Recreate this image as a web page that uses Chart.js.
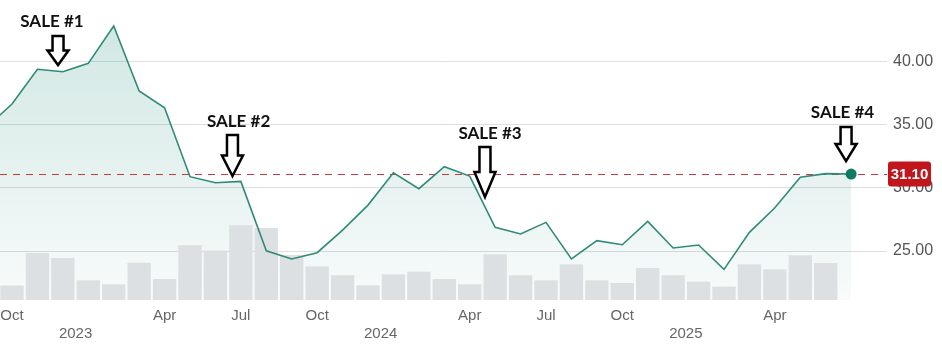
<!DOCTYPE html>
<html><head><meta charset="utf-8">
<script src="https://cdn.jsdelivr.net/npm/chart.js@4/dist/chart.umd.min.js"></script>
<style>html,body{margin:0;padding:0;background:#fff}</style>
</head><body>
<canvas id="c" width="942" height="351"></canvas>
<script>
// month index: 0 = Oct 2022
const priceIdx = [-1,0,1,2,3,4,5,6,7,8,9,10,11,12,13,14,15,16,17,18,19,20,21,22,23,24,25,26,27,28,29,30,31,32,33];
const prices = [34.8,36.65,39.40,39.21,39.87,42.83,37.68,36.35,30.89,30.41,30.52,25.02,24.37,24.87,26.66,28.64,31.20,29.94,31.68,30.94,26.88,26.35,27.27,24.37,25.82,25.50,27.35,25.24,25.48,23.55,26.48,28.43,30.84,31.13,31.10];
const volumeIdx = [0,1,2,3,4,5,6,7,8,9,10,11,12,13,14,15,16,17,18,19,20,21,22,23,24,25,26,27,28,29,30,31,32];
const volumes = [14.5,47,42,19.7,15.7,37.4,21,54.7,49.4,74.7,72,45,33.6,24.7,14.7,25.7,28.4,21,15.7,45.7,24.7,19.7,35.7,19.7,17,32,24.7,18.4,13.4,35.7,30.7,44.7,37];
const monthTickIdx = [0,6,9,12,18,21,24,30];
const monthTickLabels = ['Oct','Apr','Jul','Oct','Apr','Jul','Oct','Apr'];
const yearTickIdx = [2.5,14.5,26.5];
const yearTickLabels = ['2023','2024','2025'];
const priceTicks = [25,30,35,40];
const lastPrice = 31.10;
const saleLabels = ['SALE #1','SALE #2','SALE #3','SALE #4'];
const saleIdx = [1.81,8.67,18.6,32.8];
const saleTextIdx = [1.57,8.91,18.8,32.66];
const saleTip = [39.74,30.94,29.28,32.13];
const saleTop = [42.04,34.19,33.24,34.83];

const ctx = document.getElementById('c').getContext('2d');

const overlay = {
  id: 'overlay',
  beforeDatasetsDraw(chart) {
    const {ctx, chartArea, scales} = chart;
    const y = scales.y.getPixelForValue(lastPrice);
    ctx.save();
    ctx.strokeStyle = '#cc3b3b';
    ctx.lineWidth = 1.2;
    ctx.setLineDash([7,6]);
    ctx.beginPath();
    ctx.moveTo(chartArea.left, Math.round(y)+0.5);
    ctx.lineTo(chartArea.right, Math.round(y)+0.5);
    ctx.stroke();
    ctx.restore();
  },
  afterDraw(chart) {
    const {ctx, chartArea, scales} = chart;
    const xs = scales.x, ys = scales.y;
    ctx.save();
    for (let k = 0; k < saleLabels.length; k++) {
      const tx = xs.getPixelForValue(saleIdx[k]);
      const ty = ys.getPixelForValue(saleTip[k]);
      const sy = ys.getPixelForValue(saleTop[k]);
      const hl = (ty - sy) / 2;
      const sw = 5.5, hw = 10.5;
      ctx.beginPath();
      ctx.moveTo(tx - sw, sy);
      ctx.lineTo(tx + sw, sy);
      ctx.lineTo(tx + sw, ty - hl);
      ctx.lineTo(tx + hw, ty - hl);
      ctx.lineTo(tx, ty);
      ctx.lineTo(tx - hw, ty - hl);
      ctx.lineTo(tx - sw, ty - hl);
      ctx.closePath();
      ctx.fillStyle = '#fff';
      ctx.fill();
      ctx.lineWidth = 2.5;
      ctx.lineJoin = 'miter';
      ctx.strokeStyle = '#000';
      ctx.stroke();
      ctx.fillStyle = '#111';
      ctx.font = 'bold 17px Lato, "Open Sans", sans-serif';
      ctx.textAlign = 'center';
      ctx.textBaseline = 'middle';
      ctx.fillText(saleLabels[k], xs.getPixelForValue(saleTextIdx[k]), sy - 14);
    }
    const py = ys.getPixelForValue(lastPrice);
    const bx = chartArea.right + 1, bw = 43, bh = 25;
    ctx.fillStyle = '#c0161c';
    ctx.beginPath();
    ctx.roundRect(bx, py - bh/2, bw, bh, 3);
    ctx.fill();
    ctx.fillStyle = '#fff';
    ctx.font = 'bold 15px "Liberation Sans", Arial, sans-serif';
    ctx.textAlign = 'center';
    ctx.textBaseline = 'middle';
    ctx.fillText(lastPrice.toFixed(2), bx + bw/2, py + 1);
    ctx.restore();
  }
};

const zeroPad = s => { s.paddingLeft = 0; s.paddingRight = 0; s.paddingTop = 0; s.paddingBottom = 0; };

new Chart(ctx, {
  data: {
    datasets: [
      {
        type: 'line',
        label: 'Price',
        yAxisID: 'y',
        data: priceIdx.map((v, i) => ({x: v, y: prices[i]})),
        borderColor: '#2f8a77',
        borderWidth: 1.6,
        tension: 0,
        pointRadius: c => c.dataIndex === prices.length - 1 ? 5.5 : 0,
        pointBackgroundColor: '#0d7a64',
        pointBorderWidth: 0,
        fill: 'start',
        backgroundColor: c => {
          const ca = c.chart.chartArea;
          if (!ca) return 'rgba(30,140,118,0.15)';
          const g = c.chart.ctx.createLinearGradient(0, ca.top, 0, ca.bottom);
          g.addColorStop(0, 'rgba(30,140,118,0.22)');
          g.addColorStop(1, 'rgba(30,140,118,0.03)');
          return g;
        },
        order: 0
      },
      {
        type: 'bar',
        label: 'Volume',
        yAxisID: 'yv',
        data: volumeIdx.map((v, i) => ({x: v, y: volumes[i]})),
        backgroundColor: '#dde0e2',
        borderWidth: 0,
        barPercentage: 0.92,
        categoryPercentage: 1,
        order: 1
      }
    ]
  },
  options: {
    responsive: false,
    animation: false,
    devicePixelRatio: 1,
    layout: {autoPadding: false, padding: {left: 0, right: 0, top: 0, bottom: 0}},
    plugins: {
      legend: {display: false},
      tooltip: {enabled: false},
      filler: {drawTime: 'beforeDatasetsDraw'}
    },
    scales: {
      x: {
        type: 'linear',
        offset: false,
        min: -0.472,
        max: 34.41,
        grid: {display: false, drawTicks: false, offset: false},
        border: {display: false},
        afterBuildTicks: s => {
          const all = monthTickIdx.concat(yearTickIdx).sort((a, b) => a - b);
          s.ticks = all.map(v => ({value: v}));
        },
        afterFit: s => { s.height = 51; zeroPad(s); },
        ticks: {
          autoSkip: false,
          maxRotation: 0,
          padding: 7,
          color: '#666',
          font: {family: '"Liberation Sans", Arial, sans-serif', size: 15, lineHeight: 1.2},
          callback: v => {
            const m = monthTickIdx.indexOf(v);
            if (m >= 0) return monthTickLabels[m];
            const y = yearTickIdx.indexOf(v);
            if (y >= 0) return ['', yearTickLabels[y]];
            return '';
          }
        }
      },
      y: {
        position: 'right',
        min: 21.12,
        max: 44.89,
        grid: {color: '#dedede', drawTicks: false},
        border: {display: false},
        afterBuildTicks: s => { s.ticks = priceTicks.map(v => ({value: v})); },
        afterFit: s => { s.width = 55; zeroPad(s); },
        ticks: {
          padding: 6,
          color: '#555',
          font: {family: '"Liberation Sans", Arial, sans-serif', size: 16},
          callback: v => Number(v).toFixed(2)
        }
      },
      yv: {
        display: false,
        position: 'right',
        min: 0,
        max: 300,
        ticks: {display: false},
        afterFit: s => { s.width = 0; zeroPad(s); }
      }
    }
  },
  plugins: [overlay]
});
</script>
</body></html>
